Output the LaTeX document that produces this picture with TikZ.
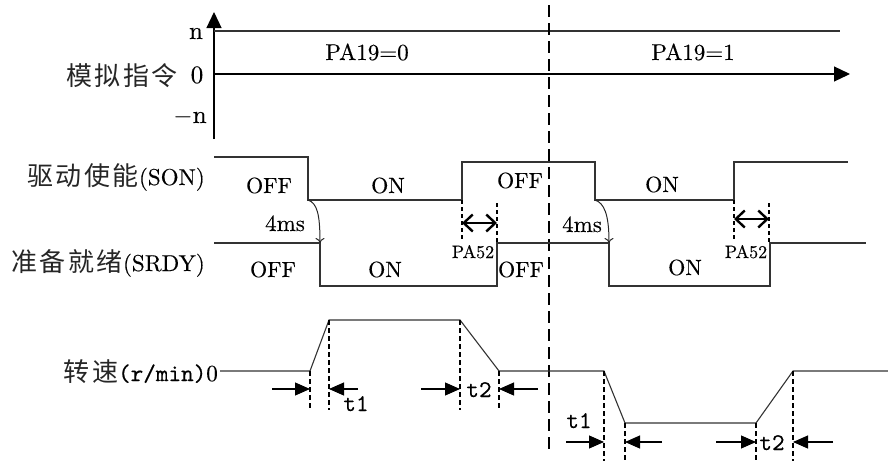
\documentclass[tikz,border=0pt]{standalone}
\usepackage{fontspec}
\setmainfont{lmroman10-regular.otf}[FakeBold=0.3]
\setmonofont{lmmono10-regular.otf}[FakeBold=0.4]
\newfontfamily\cjk{Noto Sans CJK SC}[LetterSpace=10]
\usetikzlibrary{arrows.meta}
\begin{document}
\begin{tikzpicture}[x=1pt,y=-1pt,
  axis/.style={line width=1.2pt, black, -{Triangle[length=16pt,width=15pt]}},
  sig/.style={line width=1.1pt, black!80},
  divider/.style={line width=1.8pt, black, dash pattern=on 12pt off 6pt},
  tickline/.style={line width=1.5pt, black, dash pattern=on 5pt off 3pt},
  dotline/.style={line width=2.3pt, black, dash pattern=on 4pt off 3pt},
  dimarrow/.style={line width=1.1pt, black, -{Triangle[length=15pt,width=13pt]}},
  delay/.style={line width=1pt, black!85, -{To[length=5pt,width=9pt]}},
  paarrow/.style={line width=2.4pt, black, {Straight Barb[length=9pt,width=17pt]}-{Straight Barb[length=9pt,width=17pt]}},
  lbl/.style={font=\fontsize{22}{26}\selectfont, inner sep=0pt, anchor=base},
  axlbl/.style={font=\fontsize{25}{29}\selectfont, inner sep=0pt, anchor=base},
  bigl/.style={font=\fontsize{23}{27}\selectfont, inner sep=0pt, anchor=base},
  smalllbl/.style={font=\fontsize{18}{21}\selectfont, inner sep=0pt, anchor=base},
  ttlbl/.style={font=\fontsize{24}{28}\selectfont\ttfamily, inner sep=0pt, anchor=base},
  namelbl/.style={font=\fontsize{23}{27}\selectfont, inner sep=0pt, anchor=base east},
]
\useasboundingbox (0,0) rectangle (888,461);

% ---------- analog command axes ----------
\coordinate (ybot) at (214,139);
\coordinate (ytop) at (214,12);
\coordinate (xorg) at (214,74);
\coordinate (xend) at (850,74);
\coordinate (nl) at (214,31);
\coordinate (nr) at (840,31);
\draw[axis] (ybot) -- (ytop);
\draw[axis] (xorg) -- (xend);
\draw[sig] (nl) -- (nr);

\node[axlbl] (nlab) at (196,39) {n};
\node[axlbl] (zlab) at (197,83) {0};
\node[axlbl] (mnlab) at (190,123) {$-$n};
\node[namelbl] (cmdlab) at (178,85) {\color{black!85}\cjk\fontsize{26}{30}\selectfont 模拟指令};
\node[bigl] (pa0) at (367,60) {PA19=0};
\node[bigl] (pa1) at (693,60) {PA19=1};

% ---------- divider ----------
\coordinate (dtop) at (549,5);
\coordinate (dbot) at (549,450);
\draw[divider] (dtop) -- (dbot);

% ---------- SON ----------
\node[namelbl] (sonlab) at (205,185) {{\color{black!85}\cjk\fontsize{26}{30}\selectfont 驱动使能}(SON)};
\draw[sig] (214,157) -| (308,200) -| (462,162) -| (595,200) -| (734,162) -- (848,162);
\node[lbl] (soff1) at (269,193) {OFF};
\node[lbl] (son1) at (388,193) {ON};
\node[lbl] (soff2) at (520,188) {OFF};
\node[lbl] (son2) at (662,192) {ON};

% ---------- SRDY ----------
\node[namelbl] (rdylab) at (205,271) {{\color{black!85}\cjk\fontsize{26}{30}\selectfont 准备就绪}(SRDY)};
\draw[sig] (214,243) -| (320,286) -| (497,243) -| (609,286) -| (770,243) -- (866,243);
\node[lbl] (roff1) at (273,277) {OFF};
\node[lbl] (ron1) at (385,277) {ON};
\node[lbl] (roff2) at (521,277) {OFF};
\node[lbl] (ron2) at (685,275) {ON};

% 4ms delays
\coordinate (d1a) at (308,200); \coordinate (d1b) at (320,243);
\coordinate (d2a) at (595,200); \coordinate (d2b) at (609,243);
\draw[delay] (d1a) .. controls (317,203) and (320,214) .. (d1b);
\draw[delay] (d2a) .. controls (604,203) and (609,214) .. (d2b);
\node[bigl] (ms1) at (285,231) {4ms};
\node[bigl] (ms2) at (582,232) {4ms};

% PA52 intervals
\coordinate (p1a) at (462,200); \coordinate (p1b) at (462,240);
\coordinate (p1c) at (497,203); \coordinate (p1d) at (497,243);
\draw[dotline] (p1a) -- (p1b);
\draw[dotline] (p1c) -- (p1d);
\coordinate (p1l) at (462,223); \coordinate (p1r) at (497,223);
\draw[paarrow] (p1l) -- (p1r);
\node[smalllbl] (pa52a) at (473,258) {PA52};

\coordinate (p2a) at (734,200); \coordinate (p2b) at (734,240);
\coordinate (p2c) at (769,203); \coordinate (p2d) at (769,243);
\draw[dotline] (p2a) -- (p2b);
\draw[dotline] (p2c) -- (p2d);
\coordinate (p2l) at (734,219); \coordinate (p2r) at (769,219);
\draw[paarrow] (p2l) -- (p2r);
\node[smalllbl] (pa52b) at (746,258) {PA52};

% ---------- speed ----------
\node[namelbl] (spdlab) at (218,381) {{\color{black!85}\cjk\fontsize{26}{30}\selectfont 转速}{\ttfamily\fontsize{24}{28}\selectfont(r/min)}0};
\draw[sig] (220,371) -- (310,371) -- (329,320) -- (460,320) -- (499,371) -- (604,371)
  -- (625,423) -- (756,423) -- (793,371) -- (888,371);

% dashed ticks
\draw[tickline] (310,371) -- (310,410);
\draw[tickline] (329,320) -- (329,410);
\draw[tickline] (460,320) -- (460,410);
\draw[tickline] (499,371) -- (499,410);
\draw[tickline] (604,371) -- (604,461);
\draw[tickline] (625,423) -- (625,461);
\draw[tickline] (756,423) -- (756,461);
\draw[tickline] (793,371) -- (793,461);

% t1 / t2 arrows
\coordinate (a1s) at (272,389); \coordinate (a1e) at (310,389);
\coordinate (a2s) at (358,389); \coordinate (a2e) at (329,389);
\coordinate (a3s) at (421,389); \coordinate (a3e) at (460,389);
\coordinate (a4s) at (538,389); \coordinate (a4e) at (499,389);
\coordinate (a5s) at (566,442); \coordinate (a5e) at (604,442);
\coordinate (a6s) at (662,442); \coordinate (a6e) at (625,442);
\coordinate (a7s) at (716,442); \coordinate (a7e) at (756,442);
\coordinate (a8s) at (833,442); \coordinate (a8e) at (793,442);
\foreach \s/\e in {a1s/a1e,a2s/a2e,a3s/a3e,a4s/a4e,a5s/a5e,a6s/a6e,a7s/a7e,a8s/a8e}
  \draw[dimarrow] (\s) -- (\e);

\node[ttlbl] (t1a) at (356,411) {t1};
\node[ttlbl] (t2a) at (479,397) {t2};
\node[ttlbl] (t1b) at (579,428) {t1};
\node[ttlbl] (t2b) at (772,450) {t2};
\end{tikzpicture}
\end{document}
